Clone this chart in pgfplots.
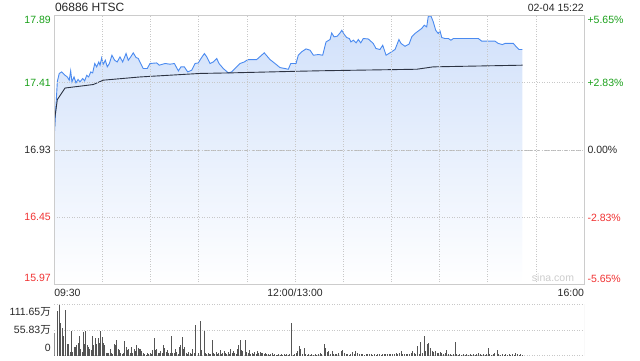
\documentclass[border=0pt]{standalone}
\usepackage{pgfplots}
\pgfplotsset{compat=1.18}
\usepackage{fontspec}
\setmainfont{Liberation Sans}
\newfontfamily\cjk{Noto Sans CJK SC}
\definecolor{upg}{RGB}{26,160,26}
\definecolor{dnr}{RGB}{240,50,50}
\definecolor{txt}{RGB}{40,40,40}
\definecolor{pline}{RGB}{74,138,240}
\definecolor{avgl}{RGB}{45,52,68}
\definecolor{gridc}{RGB}{200,200,200}
\definecolor{boxc}{RGB}{204,204,204}
\definecolor{fillt}{RGB}{208,224,250}
\definecolor{volc}{RGB}{85,85,85}
\newcommand{\shl}[2]{\smash{\raisebox{#1}{#2}}}

\pgfplotstableread{
t p
0 17.035
1.9 17.420
3.1 17.476
4.6 17.487
6.7 17.463
8.1 17.451
9.3 17.428
10.2 17.494
11.0 17.416
12.3 17.451
13.5 17.409
14.8 17.433
16.0 17.416
17.7 17.440
18.9 17.423
20.2 17.463
21.4 17.451
22.7 17.487
23.9 17.480
25.2 17.547
26.4 17.523
27.7 17.558
28.5 17.535
29.5 17.587
30.5 17.542
31.8 17.570
33.0 17.523
34.3 17.547
35.9 17.606
37.6 17.570
39.2 17.558
40.9 17.594
42.6 17.558
44.7 17.618
46.1 17.570
47.6 17.594
49.2 17.623
50.9 17.590
52.3 17.583
53.8 17.547
55.4 17.511
57.9 17.511
59.6 17.547
63.8 17.551
65.4 17.535
69.0 17.547
72.1 17.542
74.8 17.547
77.3 17.494
78.9 17.523
81.0 17.523
83.1 17.487
85.6 17.499
87.7 17.547
89.7 17.551
91.4 17.583
93.5 17.618
95.0 17.594
97.0 17.547
99.1 17.558
101.2 17.583
102.6 17.547
105.3 17.511
108.4 17.480
110.5 17.487
112.6 17.511
115.7 17.547
118.4 17.558
120.5 17.575
126.1 17.575
130.8 17.623
134.4 17.575
137.5 17.547
140.6 17.518
143.7 17.511
145.8 17.506
147.3 17.547
150.6 17.547
152.0 17.606
154.1 17.630
156.8 17.651
159.3 17.642
161.4 17.606
164.5 17.611
167.2 17.606
169.3 17.701
171.8 17.718
172.8 17.765
174.3 17.737
176.3 17.742
178.0 17.765
179.1 17.784
180.5 17.756
182.2 17.732
183.8 17.725
184.8 17.701
186.3 17.713
188.0 17.694
189.4 17.718
190.9 17.694
192.5 17.725
195.6 17.722
198.7 17.690
200.4 17.654
202.9 17.647
204.6 17.677
206.7 17.606
209.1 17.623
212.3 17.647
214.7 17.718
216.0 17.690
218.5 17.670
221.0 17.685
222.7 17.737
224.7 17.761
226.8 17.779
228.9 17.797
230.5 17.820
232.0 17.808
233.0 17.884
234.7 17.884
236.1 17.844
237.6 17.784
239.2 17.761
240.3 17.779
241.4 17.732
243.4 17.725
245.5 17.725
247.1 17.713
248.6 17.725
255.9 17.725
264.2 17.725
266.3 17.706
274.6 17.706
276.6 17.690
279.1 17.682
280.8 17.690
286.0 17.690
287.5 17.670
289.5 17.647
291.6 17.647
}\price

\pgfplotstableread{
t a
0 17.035
0.3 17.157
1.9 17.290
2.5 17.300
6.7 17.372
24.3 17.397
30.5 17.428
53.4 17.451
90.8 17.476
109.5 17.480
153.1 17.492
165.5 17.495
225.8 17.506
236.1 17.523
291.8 17.535
}\avgp

\pgfplotstableread{
t v
0 48.6
1.9 97
3.1 110
4.0 70
4.8 59.5
5.6 43
6.9 99
8.1 25
9.0 25
9.8 8.7
10.6 53.6
11.4 8.7
12.3 19.5
13.1 19.5
14.0 23
14.8 27
15.6 43
16.4 15
17.3 8.7
18.1 50.8
18.9 25
19.7 53.6
20.6 23
21.4 19.5
22.2 15
23.1 12
23.9 43
24.7 23
25.6 38.8
26.4 25
27.2 37.7
28.1 27
28.9 53.6
29.7 41
30.5 27
31.4 23
32.2 5
33.0 6
33.9 5
34.7 15
35.5 5
36.4 3
37.2 25
38.0 23
38.9 34
39.7 14
40.5 12
41.3 5
42.2 3
43.0 5
43.8 32
44.7 19.5
45.5 12
46.3 15
47.2 5
48.0 19.5
48.8 6
49.7 15
50.5 10
51.3 23
52.2 17
53.0 15
53.8 15
54.6 10
55.5 5
56.3 3
57.1 1.5
58.0 5
58.8 3
59.6 5
60.5 3
61.3 12
62.1 37.7
63.0 12
63.8 15
64.6 6
65.4 5
66.3 10
67.1 5
67.9 23
68.8 17
69.6 8
70.4 12
71.3 6
72.1 5
72.9 43
73.8 6
74.6 5
75.4 15
76.2 8
77.1 3
77.9 19.5
78.7 23
79.6 41
80.4 15
81.2 19.5
82.1 5
82.9 3
83.7 8
84.6 5
85.4 3
86.2 15
87.0 6
87.9 66.7
89.5 5
90.9 75.4
91.8 12
93.4 53.6
94.2 5
95.0 3
95.8 5
96.6 3
97.5 3
98.3 35
99.1 5
99.9 3
100.8 8
101.6 3
102.4 6
103.2 12
104.1 3
104.9 5
105.7 10
106.6 5
107.4 3
108.2 8
109.1 3
109.9 15
110.7 5
111.6 10
112.4 6
113.2 3
114.0 15
114.9 23
115.7 34
116.5 12
117.4 10
118.8 34
119.9 8
120.7 5
121.5 12
122.4 3
123.2 5
124.0 3
124.8 8
125.7 3
126.5 10
127.3 6
128.2 8
129.0 5
129.8 6
130.7 3
131.5 5
132.3 3
133.2 4
134.0 2
134.8 3
135.7 5
136.5 2
137.3 3
138.1 2
139.0 2
139.8 3
140.6 2
141.5 3
142.3 2
143.1 3
144.0 2
144.8 3
145.8 2
146.8 3
147.9 71
148.9 2
149.9 3
151.0 5
151.6 10
152.6 21
153.5 14
154.5 3
155.7 17
156.6 3
157.4 2
158.2 3
159.3 2
160.3 3
161.4 2
162.4 3
163.4 2
164.5 3
165.5 5
166.5 3
168.2 25
169.2 17
170.3 8
171.1 10
172.2 3
173.2 10
174.0 3
174.9 3
175.9 3
176.9 5
178.6 10
179.6 13
180.7 5
181.7 3
182.7 3
183.8 2
184.8 3
185.9 8
186.9 3
187.9 10
189.0 6
190.0 3
191.1 3
192.1 3
193.1 2
194.2 3
195.2 3
196.2 3
197.3 3
198.3 2
199.4 3
200.4 2
201.4 3
202.5 3
203.5 2
204.6 3
205.6 3
206.6 3
207.7 4
208.7 3
209.7 3
210.8 4
211.8 3
212.9 5
213.9 3
214.9 5
216.0 10
217.0 3
218.1 3
219.1 3
220.1 3
221.2 3
222.2 5
223.3 10
224.3 5
225.3 3
226.4 21
227.4 3
228.2 30
229.3 5
230.3 43
231.4 10
232.2 25
233.2 27
234.3 16
235.3 10
236.3 8
237.4 10
238.4 5
239.4 5
240.5 8
241.5 5
242.6 3
243.6 5
244.6 12
245.7 3
246.7 3
247.7 2
248.8 3
249.6 29.7
250.7 3
251.7 2
252.7 3
253.8 2
254.8 3
255.9 2
256.9 3
257.9 2
259.0 3
260.0 2
261.0 3
262.1 2
263.1 3
264.2 5
265.2 3
266.2 2
267.3 3
268.3 2
269.4 3
270.4 17
271.4 3
272.5 2
273.5 3
274.5 5
276.0 12
277.0 3
278.1 2
279.1 3
280.2 2
281.2 3
282.2 2
283.3 3
284.3 2
285.4 3
286.4 2
287.4 5
288.5 3
289.5 2
290.5 3
291.6 2
}\vol

\begin{document}
\begin{tikzpicture}
\path[use as bounding box] (0,0) rectangle (640pt,360pt);

% main price axis
\begin{axis}[
  at={(54.3pt,75.4pt)}, anchor=south west,
  scale only axis, width=529.7pt, height=269.2pt,
  xmin=0, xmax=330, ymin=15.97, ymax=17.89,
  axis on top,
  xtick={0,30,...,330},
  xticklabels={{\makebox[0pt][l]{09:30}},{},{},{},{},{12:00/13:00},{},{},{},{},{},{\makebox[0pt][r]{16:00}}},
  ytick={15.97,16.45,16.93,17.41,17.89},
  yticklabels={{\textcolor{dnr}{\shl{2.85pt}{15.97}}},{\textcolor{dnr}{16.45}},{\textcolor{txt}{16.93}},{\textcolor{upg}{17.41}},{\textcolor{upg}{\shl{-8.35pt}{17.89}}}},
  grid=major,
  major grid style={gridc, line width=0.6pt, dash pattern=on 0.8pt off 1.7pt},
  axis line style={boxc, line width=0.9pt},
  major tick length=0pt,
  tick label style={font=\fontsize{10.5}{12}\selectfont, text=txt},
  xticklabel style={yshift=-1pt},
]
\addplot[draw=none, top color=fillt, bottom color=white] table[x=t,y=p] {\price} -- (axis cs:291.6,15.97) -- (axis cs:0,15.97) -- cycle;
\draw[gray!55, line width=0.6pt, dash pattern=on 3pt off 1.5pt on 0.8pt off 1.5pt] (axis cs:0,16.93) -- (axis cs:330,16.93);
\addplot[pline, line width=0.9pt] table[x=t,y=p] {\price};
\addplot[avgl, line width=0.9pt] table[x=t,y=a] {\avgp};
\end{axis}

% right percentage axis
\begin{axis}[
  at={(54.3pt,75.4pt)}, anchor=south west,
  scale only axis, width=529.7pt, height=269.2pt,
  xmin=0, xmax=330, ymin=-5.65, ymax=5.65,
  axis x line=none, axis y line*=right,
  y axis line style={draw=none},
  major tick length=0pt,
  ytick={-5.65,-2.83,0,2.83,5.65},
  yticklabels={{\textcolor{dnr}{\shl{2.55pt}{-5.65\%}}},{\textcolor{dnr}{-2.83\%}},{\textcolor{txt}{0.00\%}},{\textcolor{upg}{+2.83\%}},{\textcolor{upg}{\shl{-8.35pt}{+5.65\%}}}},
  tick label style={font=\fontsize{10.5}{12}\selectfont},
]
\end{axis}

% volume axis
\begin{axis}[
  at={(54.3pt,4.3pt)}, anchor=south west,
  scale only axis, width=529.7pt, height=51.4pt,
  xmin=0, xmax=330, ymin=0, ymax=111.65,
  xtick=\empty,
  ytick={0,55.83,111.65},
  yticklabels={{\shl{3.95pt}{0}},{55.83{\cjk 万}},{\shl{-11.15pt}{111.65{\cjk 万}}}},
  ymajorgrids,
  major grid style={gridc, line width=0.6pt, dash pattern=on 0.8pt off 1.7pt},
  axis line style={draw=none},
  major tick length=0pt,
  tick label style={font=\fontsize{10.5}{12}\selectfont, text=txt},
]
\addplot[ycomb, volc, line width=0.9pt] table[x=t,y=v] {\vol};
\draw[boxc, line width=0.9pt] (rel axis cs:1,0) -- (rel axis cs:1,1);
\end{axis}

\node[anchor=west, inner sep=0pt, font=\fontsize{12}{14}\selectfont, text=black!85] at (54.8pt,352.6pt) {06886 HTSC};
\node[anchor=east, inner sep=0pt, font=\fontsize{10.5}{12}\selectfont, text=txt] at (584pt,352.4pt) {02-04 15:22};
\node[inner sep=0pt, font=\fontsize{10.5}{12}\selectfont, text=gray!40] at (553pt,81.8pt) {sina.com};
\end{tikzpicture}
\end{document}
